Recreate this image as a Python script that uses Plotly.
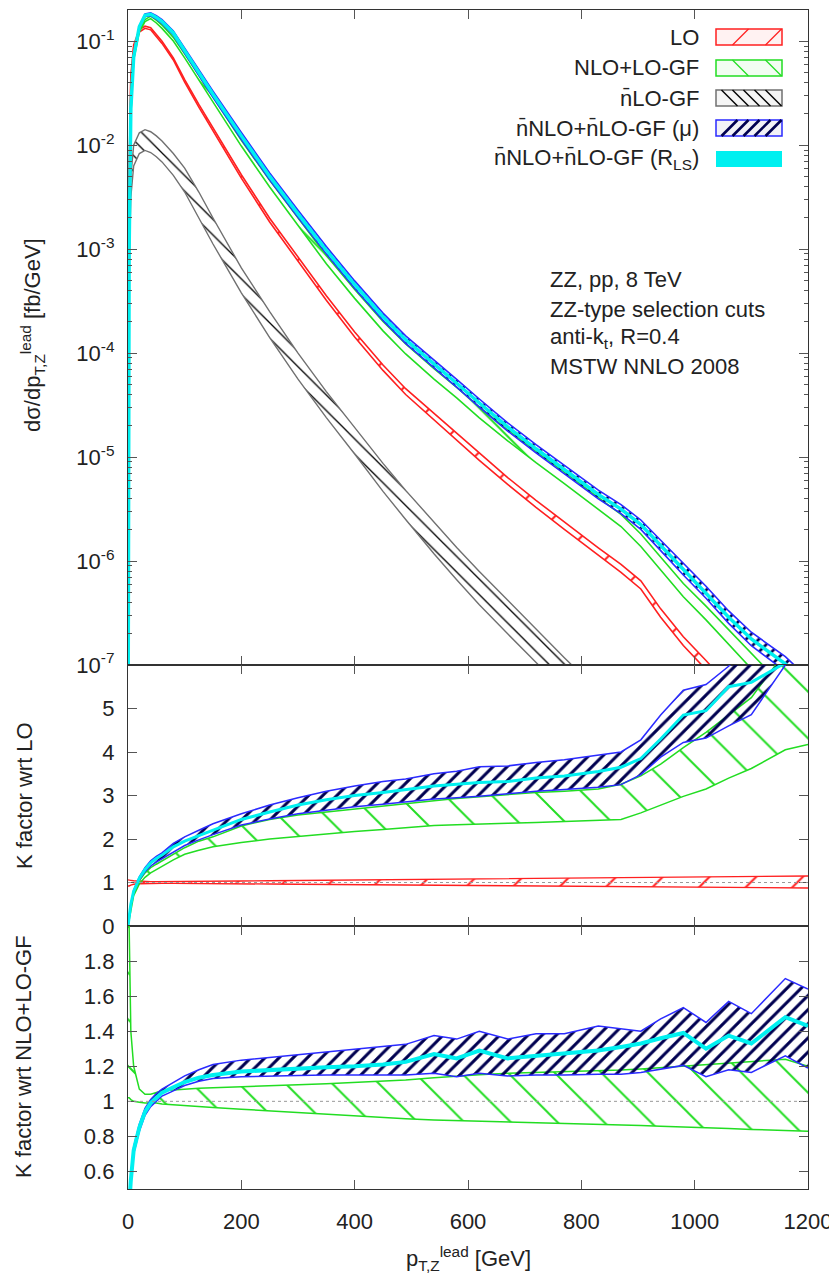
import plotly.graph_objects as go

# ---------------- data ----------------
PT = [0, 2, 5, 10, 20, 30, 40, 50, 60, 80, 100, 125, 150, 200, 250, 300, 350, 400,
      450, 490, 540, 580, 620, 670, 720, 770, 830, 870, 905, 940, 980, 1020, 1060,
      1100, 1160, 1200]

# top panel: log10 of dsigma/dpT [fb/GeV]
lo_log = [-8.0, -2.3, -1.35, -1.05, -0.9, -0.865, -0.88, -0.94, -1.01, -1.17, -1.38,
          -1.62, -1.85, -2.3, -2.72, -3.1, -3.47, -3.82, -4.14, -4.37, -4.61, -4.8,
          -5.0, -5.23, -5.45, -5.66, -5.91, -6.07, -6.23, -6.5, -6.77, -7.0, -7.25,
          -7.5, -7.85, -8.1]
lo_w = [0.02, 0.02, 0.018, 0.015, 0.012, 0.01, 0.01, 0.01, 0.01, 0.01, 0.012, 0.013,
        0.014, 0.016, 0.018, 0.02, 0.022, 0.024, 0.026, 0.028, 0.03, 0.031, 0.032,
        0.033, 0.034, 0.035, 0.037, 0.038, 0.039, 0.04, 0.042, 0.044, 0.046, 0.048,
        0.05, 0.052]
nlo_log = [-8.0, -3.1, -1.7, -1.17, -0.9, -0.8, -0.77, -0.81, -0.86, -0.98, -1.14,
           -1.35, -1.56, -1.98, -2.37, -2.74, -3.1, -3.43, -3.74, -3.96, -4.2, -4.38,
           -4.57, -4.79, -5.0, -5.2, -5.45, -5.61, -5.8, -6.02, -6.28, -6.5, -6.73,
           -6.97, -7.3, -7.55]
nlo_w = [0.005, 0.005, 0.006, 0.008, 0.01, 0.01, 0.012, 0.014, 0.016, 0.018, 0.02,
         0.022, 0.024, 0.028, 0.032, 0.036, 0.04, 0.043, 0.046, 0.048, 0.05, 0.051,
         0.052, 0.053, 0.054, 0.055, 0.057, 0.058, 0.06, 0.062, 0.064, 0.066, 0.068,
         0.07, 0.072, 0.074]
gf_up_log = [-8.0, -3.0, -2.3, -2.0, -1.88, -1.85, -1.87, -1.91, -1.96, -2.08, -2.22,
             -2.45, -2.7, -3.18, -3.6, -4.0, -4.37, -4.72, -5.06, -5.32, -5.63, -5.87,
             -6.1, -6.38, -6.66, -6.93, -7.25, -7.45, -7.63, -7.82, -8.02, -8.22,
             -8.42, -8.62, -8.92, -9.12]
gf_dn_log = [-8.0, -3.2, -2.5, -2.2, -2.08, -2.05, -2.07, -2.11, -2.16, -2.29, -2.45,
             -2.7, -2.95, -3.42, -3.85, -4.25, -4.62, -4.97, -5.33, -5.6, -5.93, -6.18,
             -6.42, -6.7, -6.98, -7.25, -7.55, -7.75, -7.93, -8.1, -8.3, -8.5, -8.7,
             -8.9, -9.2, -9.4]
rls_log = [-8.0, -3.0, -1.65, -1.15, -0.86, -0.75, -0.74, -0.77, -0.81, -0.92, -1.09,
           -1.3, -1.51, -1.91, -2.3, -2.66, -3.01, -3.34, -3.65, -3.87, -4.1, -4.29,
           -4.48, -4.71, -4.92, -5.12, -5.36, -5.5, -5.65, -5.85, -6.08, -6.3, -6.54,
           -6.75, -6.99, -7.2]
nnlo_w = [0.005, 0.005, 0.006, 0.008, 0.01, 0.012, 0.014, 0.016, 0.018, 0.02, 0.024,
          0.027, 0.03, 0.032, 0.033, 0.034, 0.035, 0.035, 0.035, 0.036, 0.037, 0.038,
          0.039, 0.04, 0.04, 0.041, 0.042, 0.043, 0.045, 0.05, 0.055, 0.058, 0.06,
          0.065, 0.07, 0.075]

# middle panel: K factor wrt LO
m_lo_up = [1.06, 1.06, 1.05, 1.04, 1.03, 1.025, 1.02, 1.02, 1.02, 1.02, 1.02, 1.025,
           1.03, 1.035, 1.04, 1.045, 1.05, 1.055, 1.06, 1.065, 1.07, 1.075, 1.08,
           1.085, 1.09, 1.095, 1.1, 1.105, 1.11, 1.115, 1.12, 1.125, 1.13, 1.135,
           1.14, 1.15]
m_lo_dn = [0.92, 0.92, 0.94, 0.96, 0.97, 0.975, 0.98, 0.98, 0.98, 0.98, 0.98, 0.978,
           0.975, 0.97, 0.965, 0.96, 0.955, 0.95, 0.945, 0.94, 0.935, 0.932, 0.928,
           0.924, 0.92, 0.916, 0.912, 0.908, 0.904, 0.9, 0.896, 0.892, 0.888, 0.884,
           0.878, 0.874]
m_nlo_up = [0.0, 0.18, 0.47, 0.76, 1.04, 1.22, 1.34, 1.42, 1.5, 1.66, 1.8, 1.95, 2.05,
            2.3, 2.45, 2.55, 2.62, 2.7, 2.76, 2.81, 2.88, 2.93, 2.97, 3.03, 3.07, 3.1,
            3.15, 3.26, 3.45, 3.72, 4.1, 4.45, 4.85, 5.25, 6.3, 6.6]
m_nlo_dn = [0.0, 0.15, 0.42, 0.7, 0.97, 1.12, 1.22, 1.3, 1.37, 1.52, 1.65, 1.74, 1.82,
            1.92, 2.0, 2.06, 2.12, 2.17, 2.22, 2.26, 2.31, 2.33, 2.35, 2.36, 2.38, 2.4,
            2.42, 2.45, 2.6, 2.78, 2.98, 3.15, 3.4, 3.62, 4.05, 4.17]
m_nnlo_up = [0.0, 0.2, 0.5, 0.82, 1.13, 1.34, 1.5, 1.6, 1.68, 1.9, 2.05, 2.2, 2.35,
             2.58, 2.78, 2.95, 3.1, 3.22, 3.32, 3.38, 3.5, 3.56, 3.66, 3.68, 3.76, 3.82,
             3.92, 4.0, 4.28, 4.85, 5.42, 5.55, 5.97, 6.5, 7.0, 7.2]
m_nnlo_dn = [0.0, 0.18, 0.47, 0.77, 1.06, 1.25, 1.38, 1.47, 1.55, 1.7, 1.85, 1.98, 2.1,
             2.32, 2.46, 2.58, 2.66, 2.74, 2.8, 2.85, 2.92, 2.95, 2.98, 3.04, 3.1, 3.14,
             3.19, 3.25, 3.48, 3.88, 4.22, 4.32, 4.6, 4.86, 6.0, 6.6]
m_rls = [0.0, 0.2, 0.5, 0.8, 1.1, 1.3, 1.45, 1.55, 1.63, 1.82, 1.95, 2.08, 2.2, 2.45,
         2.62, 2.78, 2.9, 3.0, 3.07, 3.13, 3.22, 3.26, 3.3, 3.32, 3.4, 3.45, 3.55, 3.65,
         3.85, 4.3, 4.85, 4.95, 5.5, 5.6, 6.05, 6.4]

# bottom panel: K factor wrt NLO+LO-GF
b_nlo_up = [2.2, 2.0, 1.4, 1.2, 1.07, 1.04, 1.04, 1.05, 1.06, 1.065, 1.07, 1.075, 1.078,
            1.082, 1.088, 1.094, 1.1, 1.107, 1.115, 1.122, 1.135, 1.145, 1.152, 1.16,
            1.165, 1.168, 1.172, 1.178, 1.185, 1.193, 1.2, 1.21, 1.22, 1.23, 1.24, 1.2]
b_nlo_dn = [1.02, 1.02, 1.01, 1.0, 0.995, 0.99, 0.99, 0.99, 0.985, 0.98, 0.975, 0.97,
            0.965, 0.955, 0.945, 0.935, 0.925, 0.915, 0.905, 0.9, 0.893, 0.89, 0.887,
            0.884, 0.88, 0.875, 0.87, 0.865, 0.862, 0.858, 0.855, 0.85, 0.845, 0.84,
            0.835, 0.83]
b_nnlo_up = [0.32, 0.47, 0.57, 0.74, 0.87, 0.96, 1.01, 1.045, 1.07, 1.11, 1.145, 1.18,
             1.21, 1.235, 1.25, 1.265, 1.28, 1.295, 1.31, 1.325, 1.375, 1.355, 1.4,
             1.355, 1.385, 1.385, 1.43, 1.415, 1.4, 1.47, 1.535, 1.45, 1.57, 1.5, 1.7,
             1.64]
b_nnlo_dn = [0.28, 0.43, 0.53, 0.7, 0.83, 0.92, 0.97, 1.0, 1.03, 1.06, 1.09, 1.115,
             1.13, 1.14, 1.145, 1.148, 1.15, 1.15, 1.15, 1.15, 1.16, 1.14, 1.16, 1.145,
             1.15, 1.15, 1.155, 1.155, 1.165, 1.185, 1.205, 1.14, 1.18, 1.165, 1.26,
             1.19]
b_rls = [0.3, 0.45, 0.55, 0.72, 0.85, 0.94, 0.99, 1.02, 1.05, 1.08, 1.11, 1.135, 1.15,
         1.17, 1.18, 1.19, 1.195, 1.2, 1.21, 1.225, 1.27, 1.245, 1.29, 1.245, 1.26, 1.27,
         1.29, 1.31, 1.33, 1.36, 1.39, 1.3, 1.375, 1.33, 1.48, 1.43]

X_TICKS = [0, 200, 400, 600, 800, 1000, 1200]
TOP_TICKS = [1e-7, 1e-6, 1e-5, 1e-4, 1e-3, 1e-2, 1e-1]
TOP_TICKTEXT = ["10<sup>-7</sup>", "10<sup>-6</sup>", "10<sup>-5</sup>", "10<sup>-4</sup>",
                "10<sup>-3</sup>", "10<sup>-2</sup>", "10<sup>-1</sup>"]
MID_TICKS = [0, 1, 2, 3, 4, 5]
BOT_TICKS = [0.6, 0.8, 1.0, 1.2, 1.4, 1.6, 1.8]
BOT_TICKTEXT = ["0.6", "0.8", "1", "1.2", "1.4", "1.6", "1.8"]

LEG_LABELS = ["LO", "NLO+LO-GF", "n\u0304LO-GF", "n\u0304NLO+n\u0304LO-GF (\u03bc)",
              "n\u0304NLO+n\u0304LO-GF (R<sub>LS</sub>)"]
INFO_LINES = ["ZZ, pp, 8 TeV", "ZZ-type selection cuts", "anti-k<sub>t</sub>, R=0.4",
              "MSTW NNLO 2008"]

# ---------------- styling ----------------
FONT = "Liberation Sans, Arial, Helvetica, sans-serif"
FS = 22
TXT = "#222222"
RED = "#ff2020"
GREEN = "#22dd22"
GRAY = "#707070"
BLUE = "#2a2aff"
NAVY = "#000050"
CYAN = "#00f0f0"

# page offset of the plotly div inside the browser page (default body margin)
PAGE_OFF = 8

fig = go.Figure()


def add_band(dn, up, xa, ya, edge, hatch, shape, size, solidity, lw=1.4):
    fig.add_trace(go.Scatter(x=PT, y=dn, mode="lines", line=dict(color=edge, width=lw),
                             xaxis=xa, yaxis=ya, showlegend=False, hoverinfo="skip"))
    fig.add_trace(go.Scatter(x=PT, y=up, mode="lines", line=dict(color=edge, width=lw),
                             fill="tonexty", fillcolor="rgba(0,0,0,0)",
                             fillpattern=dict(shape=shape, fgcolor=hatch,
                                              bgcolor="rgba(0,0,0,0)", size=size,
                                              solidity=solidity, fillmode="replace"),
                             xaxis=xa, yaxis=ya, showlegend=False, hoverinfo="skip"))


def p10(vals):
    return [10 ** v for v in vals]


# ---- top panel ----
add_band(p10([c - w for c, w in zip(lo_log, lo_w)]), p10([c + w for c, w in zip(lo_log, lo_w)]),
         "x", "y", RED, RED, "/", 33, 0.06, lw=1.6)
add_band(p10([c - w for c, w in zip(nlo_log, nlo_w)]), p10([c + w for c, w in zip(nlo_log, nlo_w)]),
         "x", "y", GREEN, GREEN, "\\", 33, 0.06, lw=1.6)
add_band(p10(gf_dn_log), p10(gf_up_log), "x", "y", GRAY, "#000000", "\\", 11, 0.12, lw=1.4)
add_band(p10([c - w for c, w in zip(rls_log, nnlo_w)]), p10([c + w for c, w in zip(rls_log, nnlo_w)]),
         "x", "y", BLUE, NAVY, "/", 9, 0.3, lw=1.6)
fig.add_trace(go.Scatter(x=PT, y=p10(rls_log), mode="lines", line=dict(color=CYAN, width=3.5),
                         xaxis="x", yaxis="y", showlegend=False, hoverinfo="skip"))

# ---- middle panel ----
add_band(m_lo_dn, m_lo_up, "x2", "y2", RED, RED, "/", 33, 0.06, lw=1.4)
add_band(m_nlo_dn, m_nlo_up, "x2", "y2", GREEN, GREEN, "\\", 33, 0.06, lw=1.5)
add_band(m_nnlo_dn, m_nnlo_up, "x2", "y2", BLUE, NAVY, "/", 10, 0.3, lw=1.5)
fig.add_trace(go.Scatter(x=PT, y=m_rls, mode="lines", line=dict(color=CYAN, width=3),
                         xaxis="x2", yaxis="y2", showlegend=False, hoverinfo="skip"))

# ---- bottom panel ----
add_band(b_nlo_dn, b_nlo_up, "x3", "y3", GREEN, GREEN, "\\", 33, 0.06, lw=1.5)
add_band(b_nnlo_dn, b_nnlo_up, "x3", "y3", BLUE, NAVY, "/", 10, 0.3, lw=1.5)
fig.add_trace(go.Scatter(x=PT, y=b_rls, mode="lines", line=dict(color=CYAN, width=4),
                         xaxis="x3", yaxis="y3", showlegend=False, hoverinfo="skip"))

# ---------------- axes ----------------
H_PLOT = 1179.0
D_BOT = 263 / H_PLOT
D_MID = 524 / H_PLOT

axis_common = dict(showline=True, linecolor="#333333", linewidth=1.3, mirror="ticks",
                   ticks="inside", ticklen=9, tickwidth=1, tickcolor="#555555",
                   showgrid=False, zeroline=False, automargin=False,
                   tickfont=dict(family=FONT, size=FS, color=TXT))

xa = dict(axis_common, range=[0, 1200], tickmode="array", tickvals=X_TICKS)
fig.update_layout(
    xaxis=dict(xa, anchor="y", showticklabels=False),
    xaxis2=dict(xa, anchor="y2", showticklabels=False),
    xaxis3=dict(xa, anchor="y3", showticklabels=True, ticklabelstandoff=12),
    yaxis=dict(axis_common, domain=[D_MID, 1.0], type="log", range=[-7.0001, -0.699],
               tickmode="array", tickvals=TOP_TICKS, ticktext=TOP_TICKTEXT,
               ticklabelstandoff=8,
               minor=dict(tickmode="array",
                          tickvals=[k * 10.0 ** e for e in range(-7, 0) for k in range(2, 10)],
                          ticks="inside", ticklen=4, tickcolor="#555555", showgrid=False),
               anchor="x"),
    yaxis2=dict(axis_common, domain=[D_BOT, D_MID], range=[0, 6], tickmode="array",
                tickvals=MID_TICKS, ticklabelstandoff=8, anchor="x2"),
    yaxis3=dict(axis_common, domain=[0, D_BOT], range=[0.5, 2.0], tickmode="array",
                tickvals=BOT_TICKS, ticktext=BOT_TICKTEXT, ticklabelstandoff=8,
                anchor="x3"),
)

# ---------------- annotations ----------------
def ypx(py):
    return 1 - (py - 10) / H_PLOT


def xpx(px):
    return (px - 128) / 680.0


ann = []
ann.append(dict(text="d\u03c3/dp<sub>T,Z</sub><sup>lead</sup> [fb/GeV]", x=xpx(32), y=ypx(335),
                textangle=-90))
ann.append(dict(text="K factor wrt LO", x=xpx(24), y=ypx(795), textangle=-90))
ann.append(dict(text="K factor wrt NLO+LO-GF", x=xpx(23), y=ypx(1057), textangle=-90))
ann.append(dict(text="p<sub>T,Z</sub><sup>lead</sup> [GeV]", x=xpx(468), y=ypx(1258)))
for a in ann:
    a.update(xref="paper", yref="paper", showarrow=False, xanchor="center", yanchor="middle",
             font=dict(family=FONT, size=FS, color=TXT))

info_y = [280, 309, 338, 366]
for t, py in zip(INFO_LINES, info_y):
    ann.append(dict(text=t, x=xpx(548), y=ypx(py), xref="paper", yref="paper",
                    showarrow=False, xanchor="left", yanchor="middle",
                    font=dict(family=FONT, size=FS, color=TXT)))

leg_y = [37, 68, 98, 128, 159]
for t, py in zip(LEG_LABELS, leg_y):
    ann.append(dict(text=t, x=xpx(701), y=ypx(py), xref="paper", yref="paper",
                    showarrow=False, xanchor="right", yanchor="middle",
                    font=dict(family=FONT, size=FS, color=TXT)))
fig.update_layout(annotations=ann)

# legend swatches (box + hatch strokes) and reference lines
shapes = []
SW_X0, SW_X1, SW_H = 716, 782, 8
sw_style = [
    (RED, "rgba(255,0,0,0.05)", RED, 1, 33, 1.2),
    (GREEN, "rgba(0,220,0,0.05)", GREEN, -1, 33, 1.2),
    (GRAY, "rgba(0,0,0,0.04)", "#000000", -1, 11, 1.4),
    (BLUE, "rgba(0,0,90,0.05)", NAVY, 1, 11, 2.6),
    (None, CYAN, None, 0, 0, 0),
]
for (edge, fillc, hatch, direction, step, hw), py in zip(sw_style, leg_y):
    shapes.append(dict(type="rect", xref="paper", yref="paper", x0=xpx(SW_X0), x1=xpx(SW_X1),
                       y0=ypx(py + SW_H), y1=ypx(py - SW_H), layer="above",
                       fillcolor=fillc,
                       line=dict(color=edge if edge else fillc, width=1.5 if edge else 0)))
    if hatch:
        xs = SW_X0 + step / 2.0
        while xs + 2 * SW_H <= SW_X1 + 0.1:
            if direction > 0:
                x0, y0, x1, y1 = xs, py + SW_H, xs + 2 * SW_H, py - SW_H
            else:
                x0, y0, x1, y1 = xs, py - SW_H, xs + 2 * SW_H, py + SW_H
            shapes.append(dict(type="line", xref="paper", yref="paper",
                               x0=xpx(x0), x1=xpx(x1), y0=ypx(y0), y1=ypx(y1),
                               layer="above", line=dict(color=hatch, width=hw)))
            xs += step
for yref in ["y2", "y3"]:
    shapes.append(dict(type="line", xref=yref.replace("y", "x") + " domain", yref=yref,
                       x0=0, x1=1, y0=1, y1=1, layer="above",
                       line=dict(color="#999999", width=1, dash="dot")))
fig.update_layout(shapes=shapes)

# plot area on the page: x 128..808, y 10..1189 (page has an 8px body margin)
fig.update_layout(width=837 - PAGE_OFF, height=1275 - PAGE_OFF,
                  margin=dict(l=128 - PAGE_OFF, r=29, t=10 - PAGE_OFF, b=86),
                  paper_bgcolor="white", plot_bgcolor="white", showlegend=False,
                  font=dict(family=FONT, size=FS, color=TXT))

fig.write_html("out.html")
